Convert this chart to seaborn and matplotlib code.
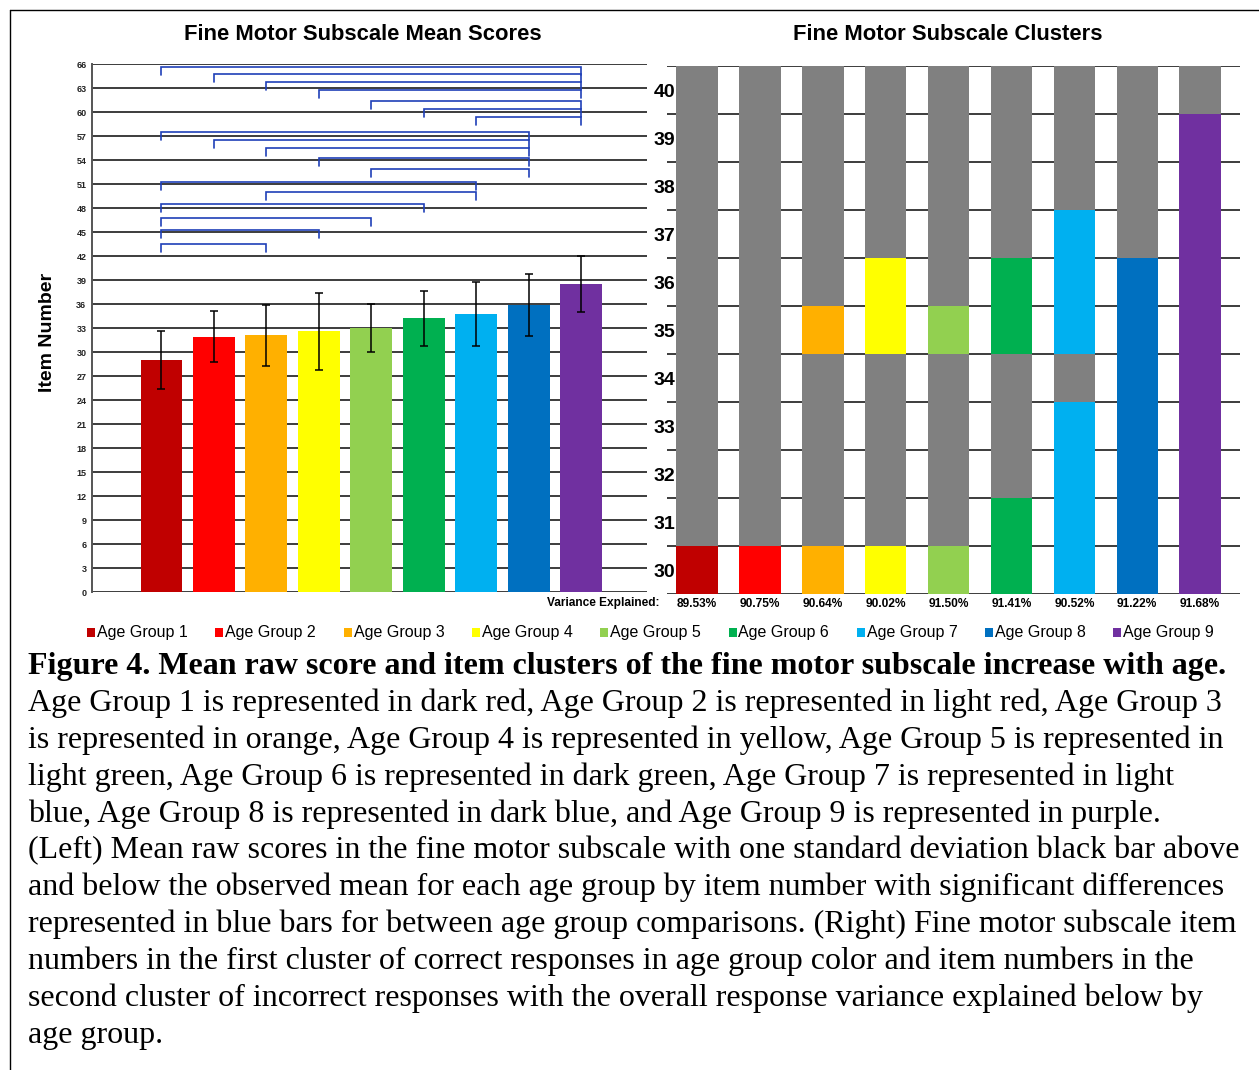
import numpy as np
import pandas as pd
import matplotlib
matplotlib.use("Agg")
import matplotlib.pyplot as plt
from matplotlib.lines import Line2D
from matplotlib.patches import Rectangle
import seaborn as sns

# ---- data -------------------------------------------------------------
groups = ["Age Group 1", "Age Group 2", "Age Group 3", "Age Group 4", "Age Group 5",
          "Age Group 6", "Age Group 7", "Age Group 8", "Age Group 9"]
group_colors = ["#C00000", "#FF0000", "#FFB000", "#FFFF00", "#92D050",
                "#00B050", "#00B0F0", "#0070C0", "#7030A0"]

mean_scores = [29.0, 31.9, 32.1, 32.6, 33.0, 34.2, 34.7, 35.9, 38.5]
sd_scores = [3.6, 3.2, 3.8, 4.8, 3.0, 3.4, 4.0, 3.85, 3.5]

# significant between-group comparisons (group numbers) and bracket heights
sig_pairs = [(1, 9), (2, 9), (3, 9), (4, 9), (5, 9), (6, 9), (7, 9),
             (1, 8), (2, 8), (3, 8), (4, 8), (5, 8),
             (1, 7), (3, 7),
             (1, 6), (1, 5), (1, 4), (1, 3)]
sig_heights = [65.6, 64.7, 63.7, 62.7, 61.4, 60.4, 59.4,
               57.5, 56.5, 55.5, 54.3, 52.9,
               51.25, 50.0,
               48.5, 46.8, 45.2, 43.5]

left_ticks = list(range(0, 67, 3))

# item numbers of the right panel and the items in the correct-response cluster
items = [30, 31, 32, 33, 34, 35, 36, 37, 38, 39, 40]
cluster_correct = [
    [30],
    [30],
    [30, 35],
    [30, 35, 36],
    [30, 35],
    [30, 31, 35, 36],
    [30, 31, 32, 33, 35, 36, 37],
    [30, 31, 32, 33, 34, 35, 36],
    [30, 31, 32, 33, 34, 35, 36, 37, 38, 39],
]
incorrect_color = "#808080"
variance_explained = ["89.53%", "90.75%", "90.64%", "90.02%", "91.50%",
                      "91.41%", "90.52%", "91.22%", "91.68%"]

caption_title = "Figure 4. Mean raw score and item clusters of the fine motor subscale increase with age."
caption_lines = [
    "Age Group 1 is represented in dark red, Age Group 2 is represented in light red, Age Group 3",
    "is represented in orange, Age Group 4 is represented in yellow, Age Group 5 is represented in",
    "light green, Age Group 6 is represented in dark green, Age Group 7 is represented in light",
    "blue, Age Group 8 is represented in dark blue, and Age Group 9 is represented in purple.",
    "(Left) Mean raw scores in the fine motor subscale with one standard deviation black bar above",
    "and below the observed mean for each age group by item number with significant differences",
    "represented in blue bars for between age group comparisons. (Right) Fine motor subscale item",
    "numbers in the first cluster of correct responses in age group color and item numbers in the",
    "second cluster of incorrect responses with the overall response variance explained below by",
    "age group.",
]

# ---- style ------------------------------------------------------------
sns.set_style("white")
plt.rcParams["font.family"] = ["Liberation Sans", "DejaVu Sans"]
plt.rcParams["text.color"] = "black"
plt.rcParams["xtick.color"] = "black"
plt.rcParams["ytick.color"] = "black"
plt.rcParams["axes.labelcolor"] = "black"

W, H = 1259, 1070
fig = plt.figure(figsize=(W / 100, H / 100), dpi=100)
fig.patch.set_facecolor("white")


def fx(px):
    return px / W


def fy(py):
    return 1 - py / H


def axes_box(x0, y0, x1, y1):
    return [fx(x0), fy(y1), fx(x1) - fx(x0), fy(y0) - fy(y1)]


grid_color = "#3c3c3c"

# ---- left panel: mean scores -------------------------------------------
ax1 = fig.add_axes(axes_box(92, 64, 647, 592))
df = pd.DataFrame({"group": groups, "mean": mean_scores, "sd": sd_scores})
sns.barplot(data=df, x="group", y="mean", hue="group", palette=group_colors,
            order=groups, hue_order=groups, legend=False, width=0.8,
            saturation=1, linewidth=0, ax=ax1, zorder=2)
xpos = np.arange(len(groups))
ax1.errorbar(xpos, mean_scores, yerr=sd_scores, fmt="none", ecolor="black",
             elinewidth=1.1, capsize=3, capthick=1.1, zorder=3)

bracket_color = "#1F3FB8"
for (g1, g2), h in zip(sig_pairs, sig_heights):
    xa, xb = g1 - 1, g2 - 1
    ax1.plot([xa, xa, xb, xb], [h - 1.0, h, h, h - 1.0], color=bracket_color,
             lw=1.2, solid_joinstyle="miter", zorder=4)

ax1.set_ylim(0, 66)
ax1.set_xlim(-1.325, 9.257)
ax1.set_yticks(left_ticks)
ax1.set_yticklabels([str(t) for t in left_ticks], fontsize=6.5, fontweight="bold",
                    color="#222222")
ax1.tick_params(axis="y", length=0, pad=4)
ax1.set_xticks([])
ax1.set_xlabel("")
ax1.set_ylabel("")
ax1.yaxis.grid(True, color=grid_color, lw=1.4)
ax1.set_axisbelow(True)
for s in ["top", "right", "bottom"]:
    ax1.spines[s].set_visible(False)
ax1.spines["left"].set_color("#555555")
ax1.spines["left"].set_linewidth(1.4)
ax1.patch.set_alpha(0)

# ---- right panel: item clusters ----------------------------------------
ax2 = fig.add_axes(axes_box(667, 66, 1240, 594))
for gi, (correct, col) in enumerate(zip(cluster_correct, group_colors)):
    for it in items:
        ax2.bar(gi, 1, bottom=it - 0.5, width=0.66,
                color=col if it in correct else incorrect_color,
                linewidth=0, zorder=2)
ax2.set_ylim(items[0] - 0.5, items[-1] + 0.5)
ax2.set_xlim(-0.477, 8.633)
ax2.set_yticks(items)
ax2.set_yticklabels([str(i) for i in items], fontsize=14, fontweight="bold")
ax2.set_yticks([i - 0.5 for i in items] + [items[-1] + 0.5], minor=True)
ax2.tick_params(axis="y", which="both", length=0, pad=-6)
ax2.yaxis.grid(True, which="minor", color=grid_color, lw=1.4)
ax2.yaxis.grid(False, which="major")
ax2.set_axisbelow(True)
ax2.set_xticks(range(len(groups)))
ax2.set_xticklabels(variance_explained, fontsize=8.6, fontweight="bold")
ax2.tick_params(axis="x", length=0, pad=3)
for s in ax2.spines.values():
    s.set_visible(False)
ax2.patch.set_alpha(0)

fig.text(fx(660), fy(597), "Variance Explained:", ha="right", va="top",
         fontsize=8.6, fontweight="bold")

# ---- titles and axis label ----------------------------------------------
fig.text(fx(363), fy(35), "Fine Motor Subscale Mean Scores", ha="center", va="center",
         fontsize=15.8, fontweight="bold")
fig.text(fx(948), fy(35), "Fine Motor Subscale Clusters", ha="center", va="center",
         fontsize=15.8, fontweight="bold")
fig.text(fx(47), fy(332), "Item Number", rotation=90, ha="center", va="center",
         fontsize=14, fontweight="bold")

# ---- legend -------------------------------------------------------------
for i, (g, col) in enumerate(zip(groups, group_colors)):
    x0 = 87 + 128.3 * i
    fig.add_artist(Rectangle((fx(x0), fy(637)), fx(8), 9 / H, color=col,
                             transform=fig.transFigure, lw=0))
    fig.text(fx(x0 + 10), fy(632), g, ha="left", va="center", fontsize=11.5)

# ---- caption ------------------------------------------------------------
serif = ["Liberation Serif", "DejaVu Serif"]
fig.text(fx(28), fy(674), caption_title, ha="left", va="baseline",
         fontsize=23.0, fontweight="bold", family=serif)
for k, line in enumerate(caption_lines):
    fig.text(fx(28), fy(711 + 36.85 * k), line, ha="left", va="baseline",
             fontsize=23.0, family=serif)

# ---- frame --------------------------------------------------------------
fig.add_artist(Line2D([fx(10), fx(1259)], [fy(10), fy(10)], color="black", lw=1.0,
                      transform=fig.transFigure))
fig.add_artist(Line2D([fx(10), fx(10)], [fy(10), fy(1070)], color="black", lw=1.0,
                      transform=fig.transFigure))

fig.savefig("out.png", dpi=100, facecolor="white")
